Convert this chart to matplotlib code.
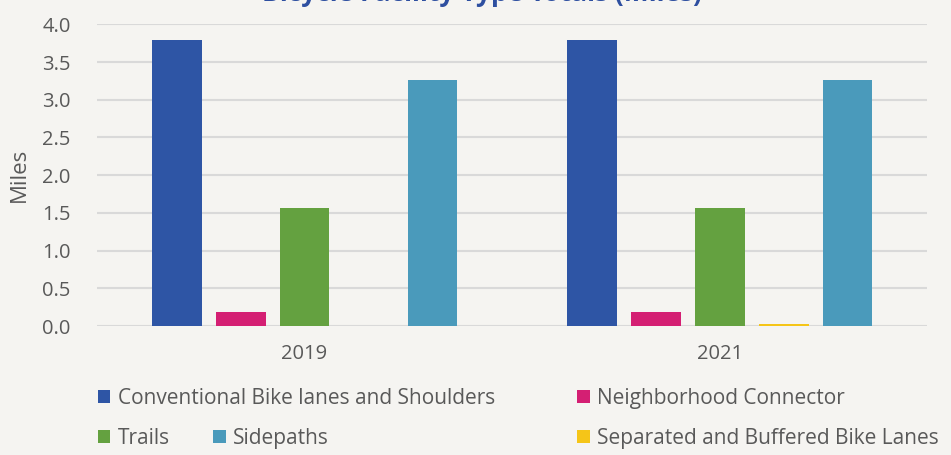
import numpy as np
import matplotlib
matplotlib.use("Agg")
import matplotlib.pyplot as plt

plt.rcParams['font.family'] = ['Open Sans', 'DejaVu Sans']

# data
years = ['2019', '2021']
facility_types = ['Conventional Bike lanes and Shoulders', 'Neighborhood Connector',
                  'Trails', 'Separated and Buffered Bike Lanes', 'Sidepaths']
conventional = [3.79, 3.79]
neighborhood = [0.19, 0.19]
trails = [1.57, 1.57]
separated = [0.0, 0.03]
sidepaths = [3.26, 3.26]

colors = ['#2E55A5', '#D41F73', '#64A140', '#F5C518', '#4A9ABB']
bg = '#F5F4F1'
txt = '#595959'

series = [conventional, neighborhood, trails, separated, sidepaths]

fig = plt.figure(figsize=(9.51, 4.55), dpi=100, facecolor=bg)
ax = fig.add_axes([0.102, 0.2835, 0.873, 0.6631], facecolor=bg)

x = np.arange(len(years))
slot = 0.154
width = 0.12
bars = []
for i, (vals, c) in enumerate(zip(series, colors)):
    b = ax.bar(x + (i - 2) * slot, vals, width, color=c, zorder=3, label=facility_types[i])
    bars.append(b)

ax.set_xlim(-0.5, 1.5)
ax.set_ylim(0, 4)
ax.set_yticks(np.arange(0, 4.01, 0.5))
ax.set_yticklabels([f'{v:.1f}' for v in np.arange(0, 4.01, 0.5)])
ax.set_xticks(x)
ax.set_xticklabels(years)
ax.grid(axis='y', color='#D9D9D9', linewidth=1.5, zorder=0)
for s in ax.spines.values():
    s.set_visible(False)
ax.tick_params(axis='both', length=0, labelsize=14.5, colors=txt)
ax.tick_params(axis='y', pad=19)
ax.tick_params(axis='x', pad=13)
ax.set_ylabel('Miles', fontsize=16, color=txt, labelpad=9)

fig.text(0.507, 0.985, 'Bicycle Facility Type Totals (Miles)', ha='center', va='bottom',
         fontsize=19, fontweight='bold', color='#2E4FA0')

# legend entries laid out like the original
legend_pos = [(0, 0.103, 0.125), (1, 0.607, 0.125), (2, 0.103, 0.037),
              (4, 0.224, 0.037), (3, 0.607, 0.037)]
for idx, lx, ly in legend_pos:
    fig.legend(handles=[bars[idx]], labels=[facility_types[idx]], loc='center left',
               bbox_to_anchor=(lx, ly), frameon=False, fontsize=15,
               handlelength=0.6, handleheight=0.6, handletextpad=0.35,
               borderpad=0, borderaxespad=0, labelcolor=txt)

fig.savefig('out.png', dpi=100, facecolor=bg)
